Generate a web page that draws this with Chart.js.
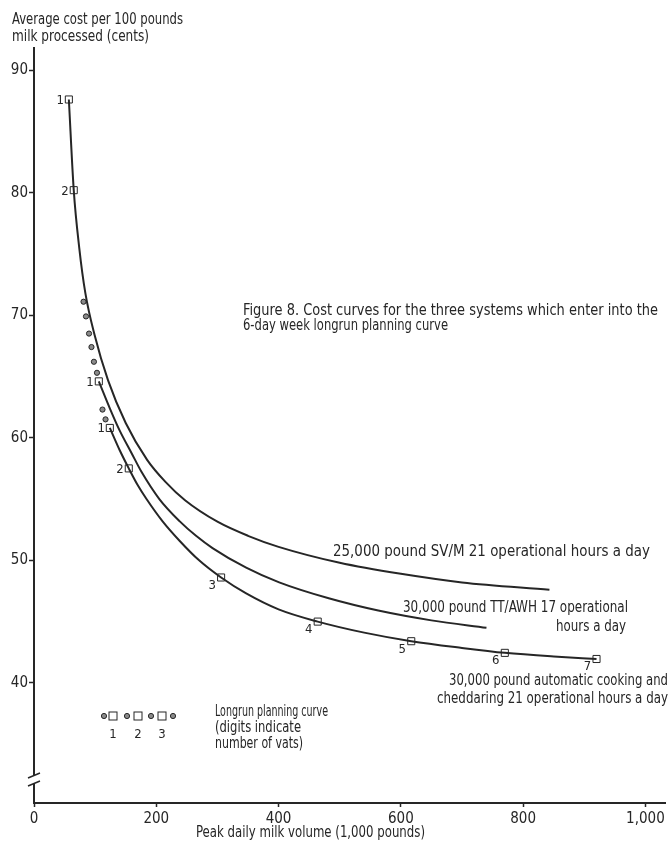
<!DOCTYPE html>
<html>
<head>
<meta charset="utf-8">
<style>
  html, body { margin: 0; padding: 0; background: #fff; }
  canvas { display: block; }
</style>
<script src="https://cdn.jsdelivr.net/npm/chart.js@4.4.1/dist/chart.umd.min.js"></script>
</head>
<body>
<canvas id="chart" width="671" height="846"></canvas>
<script>
const FONT = "'Liberation Sans Narrow', 'DejaVu Sans Condensed', 'Roboto', sans-serif";
const INK = '#262626';

// 25,000 pound SV/M, 21 operational hours a day
const svmX = [57, 65, 74, 84, 99, 121, 150, 185, 215, 247, 300, 350, 400, 500, 600, 700, 843];
const svmY = [87.6, 80.2, 75.5, 71.8, 68.4, 64.7, 61.2, 58.2, 56.4, 54.9, 53.15, 52.0, 51.1, 49.8, 48.9, 48.2, 47.6];

// 30,000 pound TT/AWH, 17 operational hours a day
const ttX = [106, 124, 140, 159, 176, 205, 238, 265, 292, 347, 401, 482, 563, 650, 740];
const ttY = [64.6, 62.4, 60.6, 58.8, 57.2, 55.0, 53.2, 52.0, 51.0, 49.4, 48.2, 46.9, 45.9, 45.1, 44.5];

// 30,000 pound automatic cooking and cheddaring, 21 operational hours a day
const acX = [124, 140, 155, 170, 184, 210, 238, 270, 306, 347, 400, 464, 540, 617, 700, 770, 850, 920];
const acY = [60.8, 59.0, 57.5, 56.1, 55.0, 53.2, 51.6, 50.0, 48.6, 47.3, 46.0, 45.0, 44.1, 43.4, 42.85, 42.45, 42.15, 41.95];

// vat-count markers along the curves (digit = number of vats)
const markerX = [57, 65, 106, 124, 155, 306, 464, 617, 770, 920];
const markerY = [87.6, 80.2, 64.6, 60.8, 57.5, 48.6, 45.0, 43.4, 42.45, 41.95];
const markerDigit = [1, 2, 1, 1, 2, 3, 4, 5, 6, 7];

// longrun planning curve between systems
const dotX = [81, 85, 90, 94, 98, 103, 112, 117];
const dotY = [71.1, 69.9, 68.5, 67.4, 66.2, 65.3, 62.3, 61.5];

const xTicks = [0, 200, 400, 600, 800, 1000];
const yTicks = [40, 50, 60, 70, 80, 90];

const toPoints = (xs, ys) => xs.map((x, i) => ({ x, y: ys[i] }));

const curveStyle = {
    showLine: true,
    borderColor: INK,
    borderWidth: 2,
    pointRadius: 0,
    fill: false,
    cubicInterpolationMode: 'monotone'
};

// text squeezed or stretched to a given width, like the condensed type of the print
function fitText(ctx, text, x, y, width, align) {
    ctx.save();
    ctx.textAlign = align || 'left';
    const w = ctx.measureText(text).width;
    ctx.translate(x, y);
    ctx.scale(width / w, 1);
    ctx.fillText(text, 0, 0);
    ctx.restore();
}

const extras = {
    id: 'extras',
    afterDatasetsDraw(chart) {
        const ctx = chart.ctx;
        const area = chart.chartArea;
        ctx.save();
        ctx.fillStyle = INK;
        ctx.textBaseline = 'alphabetic';
        ctx.font = '15px ' + FONT;

        // axis titles
        fitText(ctx, 'Average cost per 100 pounds', 12, 24, 171);
        fitText(ctx, 'milk processed (cents)', 12, 41, 137);
        fitText(ctx, 'Peak daily milk volume (1,000 pounds)', 196, 837, 229);

        // caption
        fitText(ctx, 'Figure 8. Cost curves for the three systems which enter into the', 243, 315, 415);
        fitText(ctx, '6-day week longrun planning curve', 243, 330, 205);

        // curve names
        fitText(ctx, '25,000 pound SV/M 21 operational hours a day', 333, 556, 317);
        fitText(ctx, '30,000 pound TT/AWH 17 operational', 403, 612, 225);
        fitText(ctx, 'hours a day', 626, 631, 70, 'right');
        fitText(ctx, '30,000 pound automatic cooking and', 449, 685, 219);
        fitText(ctx, 'cheddaring 21 operational hours a day', 437, 703, 231);

        // legend for the longrun planning curve
        fitText(ctx, 'Longrun planning curve', 215, 716, 113);
        fitText(ctx, '(digits indicate', 215, 732, 86);
        fitText(ctx, 'number of vats)', 215, 748, 88);
        const ly = 716;
        ctx.lineWidth = 1;
        ctx.strokeStyle = INK;
        [104, 127, 151, 173].forEach(cx => {
            ctx.beginPath();
            ctx.arc(cx, ly, 2.6, 0, Math.PI * 2);
            ctx.fillStyle = '#8a8a8a';
            ctx.fill();
            ctx.stroke();
        });
        ctx.fillStyle = '#fff';
        [113, 138, 162].forEach((cx, i) => {
            ctx.fillRect(cx - 4, ly - 4, 8, 8);
            ctx.strokeRect(cx - 4, ly - 4, 8, 8);
            ctx.fillStyle = INK;
            ctx.font = '13px ' + FONT;
            ctx.textAlign = 'center';
            ctx.fillText(String(i + 1), cx, ly + 22);
            ctx.fillStyle = '#fff';
        });

        // vat digits beside the markers
        const meta = chart.getDatasetMeta(4);
        ctx.fillStyle = INK;
        ctx.font = '13px ' + FONT;
        ctx.textBaseline = 'middle';
        meta.data.forEach((pt, i) => {
            const d = markerDigit[i];
            if (d >= 3) {
                ctx.textAlign = 'center';
                ctx.fillText(String(d), pt.x - 9, pt.y + 8);
            } else {
                ctx.textAlign = 'right';
                ctx.fillText(String(d), pt.x - 5, pt.y + 1);
            }
        });

        // break in the cost axis
        const bx = area.left;
        ctx.fillStyle = '#fff';
        ctx.fillRect(bx - 3, 776, 6, 7);
        ctx.strokeStyle = INK;
        ctx.lineWidth = 1.5;
        ctx.beginPath();
        ctx.moveTo(bx - 6, 778); ctx.lineTo(bx + 6, 773);
        ctx.moveTo(bx - 6, 786); ctx.lineTo(bx + 6, 781);
        ctx.stroke();
        ctx.restore();
    }
};

new Chart(document.getElementById('chart'), {
    type: 'scatter',
    data: {
        datasets: [
            { label: '25,000 pound SV/M', data: toPoints(svmX, svmY), ...curveStyle },
            { label: '30,000 pound TT/AWH', data: toPoints(ttX, ttY), ...curveStyle },
            { label: '30,000 pound automatic', data: toPoints(acX, acY), ...curveStyle },
            {
                label: 'Longrun planning curve',
                data: toPoints(dotX, dotY),
                showLine: false,
                pointStyle: 'circle',
                pointRadius: 2.6,
                pointBackgroundColor: '#8a8a8a',
                pointBorderColor: INK,
                pointBorderWidth: 1
            },
            {
                label: 'Vats',
                data: toPoints(markerX, markerY),
                showLine: false,
                pointStyle: 'rect',
                pointRadius: 5,
                pointBackgroundColor: '#fff',
                pointBorderColor: INK,
                pointBorderWidth: 1
            }
        ]
    },
    options: {
        responsive: false,
        animation: false,
        layout: { padding: { top: 48, right: 3, left: 0, bottom: 0 } },
        plugins: { legend: { display: false }, tooltip: { enabled: false } },
        scales: {
            x: {
                type: 'linear', min: 0, max: 1032,
                afterBuildTicks: s => { s.ticks = xTicks.map(v => ({ value: v })); },
                afterFit: s => { s.height = 43; },
                grid: { drawOnChartArea: false, tickLength: 4, color: INK, tickWidth: 1.5 },
                border: { color: INK, width: 2 },
                ticks: {
                    color: INK, padding: 3, font: { family: FONT, size: 15 },
                    callback: v => v >= 1000 ? v.toLocaleString('en-US') : String(v)
                }
            },
            y: {
                type: 'linear', min: 30.2, max: 91.8,
                afterBuildTicks: s => { s.ticks = yTicks.map(v => ({ value: v })); },
                afterFit: s => { s.width = 34; },
                grid: { drawOnChartArea: false, tickLength: 5, color: INK, tickWidth: 1.5 },
                border: { color: INK, width: 2 },
                ticks: { color: INK, padding: 1, font: { family: FONT, size: 15 } }
            }
        }
    },
    plugins: [extras]
});
</script>
</body>
</html>
